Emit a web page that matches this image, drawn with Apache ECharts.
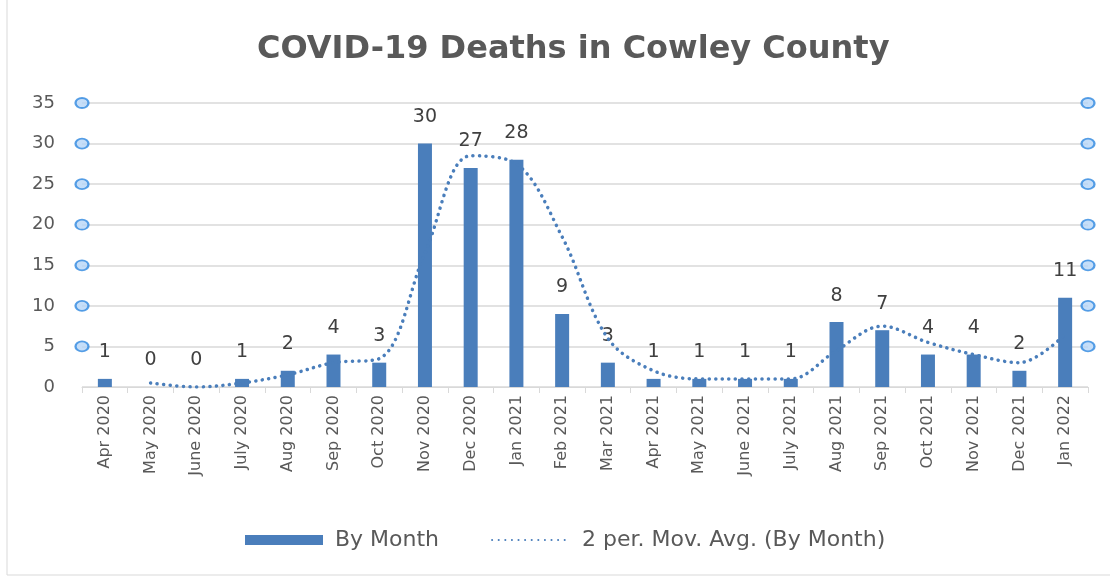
<!DOCTYPE html>
<html>
<head>
<meta charset="utf-8">
<script src="https://cdn.jsdelivr.net/npm/echarts@6/dist/echarts.min.js"></script>
<style>
html, body { margin: 0; padding: 0; background: #fff; }
#main { width: 1110px; height: 578px; }
</style>
</head>
<body>
<div id="main"></div>
<script>
var months = ['Apr 2020', 'May 2020', 'June 2020', 'July 2020', 'Aug 2020', 'Sep 2020', 'Oct 2020',
  'Nov 2020', 'Dec 2020', 'Jan 2021', 'Feb 2021', 'Mar 2021', 'Apr 2021', 'May 2021', 'June 2021',
  'July 2021', 'Aug 2021', 'Sep 2021', 'Oct 2021', 'Nov 2021', 'Dec 2021', 'Jan 2022'];
var byMonth = [1, 0, 0, 1, 2, 4, 3, 30, 27, 28, 9, 3, 1, 1, 1, 1, 8, 7, 4, 4, 2, 11];
// 2 period moving average as drawn (no point for the first month)
var movAvg = ['-', 0.5, 0, 0.5, 1.5, 3, 3.5, 16.5, 28.5, 27.5, 18.5, 6, 2, 1, 1, 1, 4.5, 7.5, 5.5, 4, 3, 6.5];
// selection handles on the chart edges
var handles = [[0, 5], [0, 10], [0, 15], [0, 20], [0, 25], [0, 30], [0, 35],
  [1, 5], [1, 10], [1, 15], [1, 20], [1, 25], [1, 30], [1, 35]];

var blue = '#4a7ebb';
var font = 'DejaVu Sans, Open Sans, sans-serif';
var chart = echarts.init(document.getElementById('main'));
var option = {
  animation: false,
  textStyle: { fontFamily: font },
  title: {
    text: 'COVID-19 Deaths in Cowley County',
    left: 252,
    top: 29,
    textStyle: { fontSize: 32, fontWeight: 'bold', color: '#595959', fontFamily: font }
  },
  graphic: [{
    type: 'rect',
    shape: { x: 7, y: -2, width: 1120, height: 577 },
    style: { fill: 'none', stroke: '#d9d9d9', lineWidth: 1 },
    silent: true
  }],
  legend: {
    bottom: 22,
    left: 240,
    itemGap: 52,
    itemWidth: 78,
    itemHeight: 10,
    textStyle: { fontSize: 22, color: '#595959', fontFamily: font, padding: [0, 0, 0, 7] },
    data: [
      { name: 'By Month', icon: 'rect' },
      { name: '2 per. Mov. Avg. (By Month)', itemStyle: { opacity: 0 } }
    ]
  },
  grid: { left: 82, right: 22, top: 103, bottom: 191, containLabel: false },
  xAxis: [{
    type: 'category',
    data: months,
    axisLine: { lineStyle: { color: '#d9d9d9' } },
    axisTick: { show: true, length: 6, lineStyle: { color: '#d9d9d9' } },
    axisLabel: { rotate: 90, fontSize: 16, color: '#595959', margin: 8 }
  }, {
    type: 'value',
    min: 0,
    max: 1,
    show: false
  }],
  yAxis: {
    type: 'value',
    min: 0,
    max: 35,
    interval: 5,
    axisLine: { show: false },
    axisTick: { show: false },
    axisLabel: { fontSize: 18, color: '#595959', margin: 27 },
    splitLine: { lineStyle: { color: '#d9d9d9', width: 1.5 } }
  },
  series: [{
    name: 'By Month',
    type: 'bar',
    data: byMonth,
    barWidth: 14,
    itemStyle: { color: blue },
    label: {
      show: true,
      position: 'top',
      distance: 17,
      fontSize: 19,
      color: '#404040'
    }
  }, {
    name: '2 per. Mov. Avg. (By Month)',
    type: 'line',
    data: movAvg,
    smooth: 0.35,
    symbol: 'none',
    z: 5,
    itemStyle: { color: blue },
    lineStyle: { color: blue, width: 3.5, type: [0.1, 6.5], cap: 'round' }
  }, {
    name: 'handles',
    type: 'scatter',
    xAxisIndex: 1,
    data: handles,
    symbol: 'circle',
    symbolSize: [13, 10],
    clip: false,
    z: 10,
    itemStyle: { color: '#b7d6f7', borderColor: '#2f88e0', borderWidth: 2 },
    silent: true
  }]
};
chart.setOption(option);
</script>
</body>
</html>
